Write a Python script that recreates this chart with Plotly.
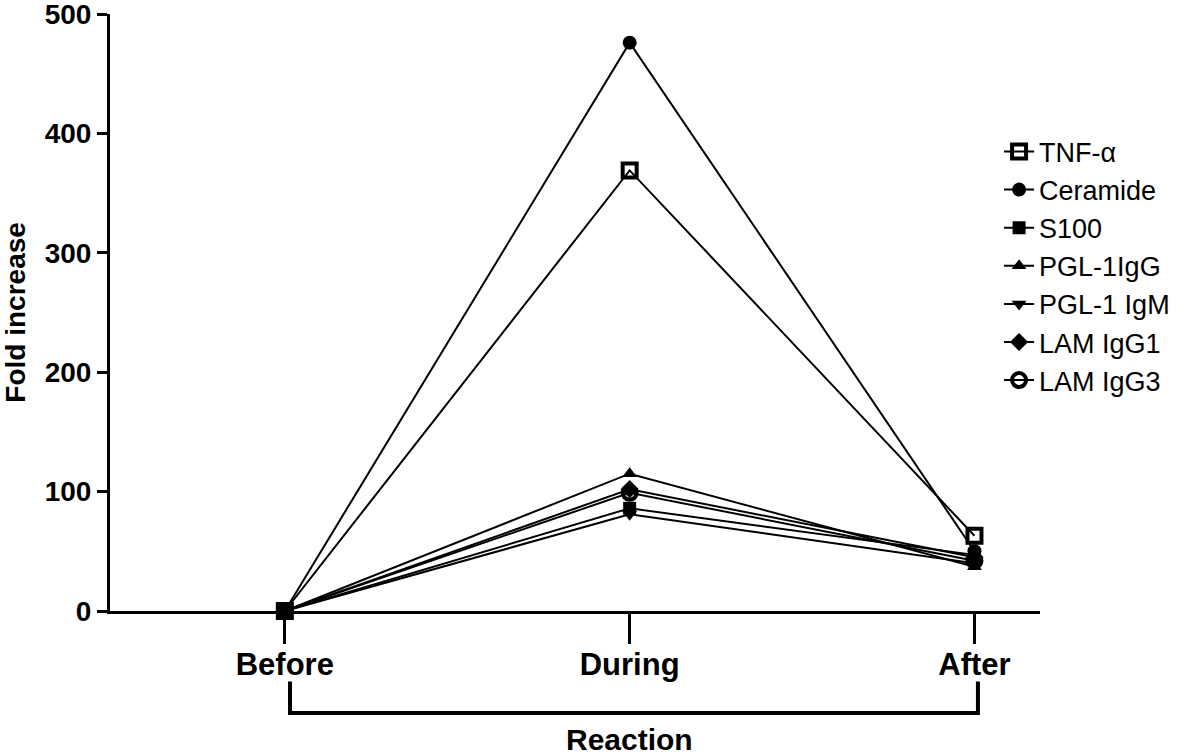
import plotly.graph_objects as go

categories = ["Before", "During", "After"]
x_pos = [0, 1, 2]

series_names = ["TNF-α", "Ceramide", "S100", "PGL-1IgG", "PGL-1 IgM", "LAM IgG1", "LAM IgG3"]
tnf = [0, 369, 63]
ceramide = [0, 476, 50]
s100 = [0, 86, 47]
pgl_igg = [0, 115, 37]
pgl_igm = [0, 81, 40]
lam_igg1 = [0, 102, 45]
lam_igg3 = [0, 99, 42]

y_ticks = [0, 100, 200, 300, 400, 500]

values = [tnf, ceramide, s100, pgl_igg, pgl_igm, lam_igg1, lam_igg3]
symbols = ["square-open", "circle", "square", "triangle-up", "triangle-down", "diamond", "circle-open"]
sizes = [14, 14, 13, 13, 13, 14, 14]
mlw = [4, 0, 0, 0, 0, 0, 4]

FONT = "Arial, Liberation Sans, sans-serif"

fig = go.Figure()
for i, (name, vals) in enumerate(zip(series_names, values)):
    fig.add_trace(go.Scatter(
        x=x_pos, y=vals, name=name, mode="lines+markers",
        line=dict(color="black", width=2),
        marker=dict(symbol=symbols[i], size=sizes[i], color="black",
                    line=dict(color="black", width=mlw[i])),
        cliponaxis=False,
    ))

fig.update_layout(
    width=1200, height=755,
    margin=dict(l=110, r=160, t=14, b=144),
    plot_bgcolor="white", paper_bgcolor="white",
    font=dict(family=FONT, color="black"),
    showlegend=True,
    legend=dict(x=0.956, y=0.810, xanchor="left", yanchor="top",
                font=dict(size=27, family=FONT, color="black"),
                bgcolor="rgba(0,0,0,0)"),
    xaxis=dict(range=[-0.507, 2.19], tickvals=x_pos, ticktext=categories, automargin=False,
               showgrid=False, zeroline=False, showline=True, linecolor="black", linewidth=3,
               ticks="outside", ticklen=30, tickwidth=3, tickcolor="black",
               ticklabeloverflow="allow", ticklabelstandoff=-6,
               tickfont=dict(size=31, family=FONT, color="black", weight="bold")),
    yaxis=dict(range=[0, 500], tickvals=y_ticks, showgrid=False, zeroline=False, automargin=False,
               showline=True, linecolor="black", linewidth=3,
               ticks="outside", ticklen=10, tickwidth=3, tickcolor="black",
               ticklabeloverflow="allow",
               tickfont=dict(size=28, family=FONT, color="black", weight="bold")),
)

fig.add_annotation(text="Fold increase", xref="paper", yref="paper", x=-0.102, y=0.5,
                   textangle=-90, showarrow=False, xanchor="center", yanchor="middle",
                   font=dict(size=28, family=FONT, color="black", weight="bold"))

# bracket under the categories
fig.add_shape(type="path", xref="x", yref="paper",
              path="M 0.015,-0.118 L 0.015,-0.171 L 2.01,-0.171 L 2.01,-0.118",
              line=dict(color="black", width=4))
fig.add_annotation(text="Reaction", xref="x", yref="paper", x=1, y=-0.216,
                   showarrow=False, font=dict(size=30, family=FONT, color="black", weight="bold"),
                   yanchor="middle")

fig.write_html("out.html", config={"displayModeBar": False},
               post_script="document.body.style.margin='0';")
